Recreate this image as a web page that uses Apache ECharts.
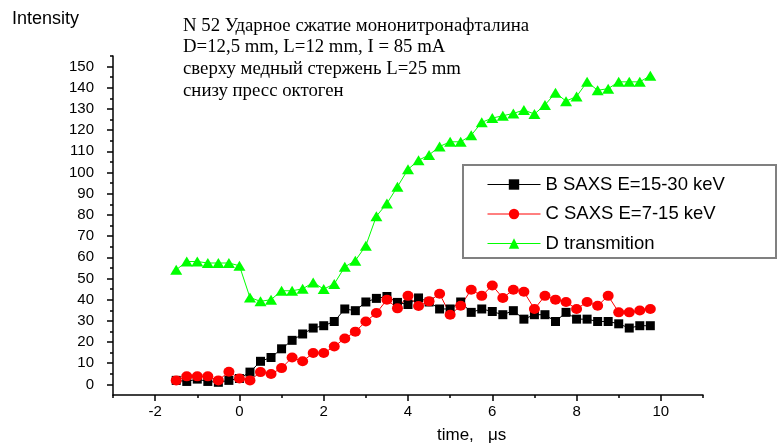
<!DOCTYPE html>
<html><head><meta charset="utf-8">
<script src="https://cdn.jsdelivr.net/npm/echarts@6/dist/echarts.min.js"></script>
<style>html,body{margin:0;padding:0;background:#fff}#c{width:780px;height:447px}</style>
</head><body><div id="c"></div>
<script>
const times = [-1.5,-1.25,-1.0,-0.75,-0.5,-0.25,0,0.25,0.5,0.75,1.0,1.25,1.5,1.75,2.0,2.25,2.5,2.75,3.0,3.25,3.5,3.75,4.0,4.25,4.5,4.75,5.0,5.25,5.5,5.75,6.0,6.25,6.5,6.75,7.0,7.25,7.5,7.75,8.0,8.25,8.5,8.75,9.0,9.25,9.5,9.75];
const saxsB = [1.9,1.4,2.5,1.4,1.0,1.9,2.8,5.8,10.9,12.7,16.8,20.8,23.8,26.6,27.7,29.7,35.6,34.8,38.9,40.6,41.5,38.7,37.7,40.8,38.9,35.6,35.6,38.9,34.0,35.6,34.4,32.9,34.8,30.8,32.9,32.9,29.7,34.0,30.8,30.8,29.7,29.7,28.6,26.6,27.7,27.7];
const saxsC = [1.9,3.8,3.8,3.8,1.9,6.0,2.8,1.9,5.8,4.9,7.7,12.7,10.9,14.8,14.8,17.9,21.7,24.9,29.7,33.7,40.0,35.9,41.8,37.0,39.2,42.8,32.9,37.1,44.7,41.8,46.7,40.8,44.7,43.7,35.6,41.8,40.0,38.9,35.6,38.9,37.1,41.8,34.0,34.0,34.9,35.6];
const transD = [54.1,58.0,58.0,57.3,57.3,57.3,56.0,41.0,39.2,40.0,44.2,44.2,45.1,48.1,45.0,47.4,55.5,58.4,65.5,79.4,85.4,93.3,101.5,105.8,108.3,112.3,114.5,114.5,117.6,123.7,125.7,126.8,127.9,129.5,127.6,131.9,137.6,133.7,135.9,142.8,138.8,139.6,142.8,142.8,142.8,145.7];
const seriesNames = ['B SAXS E=15-30 keV','C SAXS E=7-15 keV','D transmition'];
const xMajorTicks = [-2,0,2,4,6,8,10];
const xMinorTicks = [-3,-1,1,3,5,7,9,11];
const yMajorTicks = [0,10,20,30,40,50,60,70,80,90,100,110,120,130,140,150];
const yMinorTicks = [5,15,25,35,45,55,65,75,85,95,105,115,125,135,145,155];
const titleLines = ['N 52 Ударное сжатие мононитронафталина','D=12,5 mm, L=12 mm, I = 85 mA','сверху медный стержень L=25 mm','снизу пресс октоген'];
const yTitle = 'Intensity';
const xTitle = 'time,   μs';

const pair = arr => times.map((t, i) => [t, arr[i]]);
const axisCol = '#000';
const chart = echarts.init(document.getElementById('c'), null, {renderer: 'canvas'});
const lbl = {color: '#000', fontFamily: 'Liberation Sans, Arial', fontSize: 15};
chart.setOption({
  animation: false,
  backgroundColor: '#fff',
  grid: {left: 113, right: 77, top: 56, bottom: 52},
  xAxis: [
    {type: 'value', min: -3, max: 11, position: 'bottom',
     axisLine: {show: true, onZero: false, lineStyle: {color: axisCol, width: 1.5}},
     axisTick: {show: true, customValues: xMajorTicks, length: 6, lineStyle: {color: axisCol, width: 1.5}},
     axisLabel: Object.assign({customValues: xMajorTicks, margin: 9}, lbl),
     splitLine: {show: false}},
    {type: 'value', min: -3, max: 11, position: 'bottom',
     axisLine: {show: false, onZero: false},
     axisTick: {show: true, customValues: xMinorTicks, length: 3, lineStyle: {color: axisCol, width: 1.5}},
     axisLabel: {show: false}, splitLine: {show: false}}
  ],
  yAxis: [
    {type: 'value', min: -5, max: 155, position: 'left',
     axisLine: {show: true, onZero: false, lineStyle: {color: axisCol, width: 1.5}},
     axisTick: {show: true, customValues: yMajorTicks, length: 6, lineStyle: {color: axisCol, width: 1.5}},
     axisLabel: Object.assign({customValues: yMajorTicks, margin: 19}, lbl),
     splitLine: {show: false}},
    {type: 'value', min: -5, max: 155, position: 'left',
     axisLine: {show: false, onZero: false},
     axisTick: {show: true, customValues: yMinorTicks, length: 3, lineStyle: {color: axisCol, width: 1.5}},
     axisLabel: {show: false}, splitLine: {show: false}}
  ],
  legend: {
    orient: 'vertical', left: 487, top: 175, padding: 0, itemGap: 10.5,
    itemWidth: 53, itemHeight: 13,
    lineStyle: {width: 1},
    textStyle: {color: '#000', fontFamily: 'Liberation Sans, Arial', fontSize: 18.5, lineHeight: 18},
    data: seriesNames
  },
  series: [
    {name: seriesNames[0], type: 'line', data: pair(saxsB), symbol: 'rect', symbolSize: 9,
     itemStyle: {color: '#000'}, lineStyle: {color: '#000', width: 1}},
    {name: seriesNames[1], type: 'line', data: pair(saxsC), symbol: 'circle', symbolSize: [11, 10],
     itemStyle: {color: '#ff0000'}, lineStyle: {color: '#ff0000', width: 1}},
    {name: seriesNames[2], type: 'line', data: pair(transD), symbol: 'triangle', symbolSize: [12, 10],
     itemStyle: {color: '#00ff00'}, lineStyle: {color: '#00ff00', width: 1}}
  ],
  graphic: [
    {type: 'rect', shape: {x: 463, y: 165, width: 313, height: 93}, style: {fill: 'none', stroke: '#808080', lineWidth: 2}, z: 1},
    {type: 'text', left: 12, top: 10, style: {text: yTitle, font: '18px "Liberation Sans", Arial', fill: '#000'}},
    {type: 'text', left: 183, top: 15, style: {text: titleLines.join('\n'), font: '18.8px "Liberation Serif", "Times New Roman"', lineHeight: 21.7, fill: '#000'}},
    {type: 'text', left: 437, top: 427, style: {text: xTitle, font: '17px "Liberation Sans", Arial', fill: '#000'}}
  ]
});
</script></body></html>
